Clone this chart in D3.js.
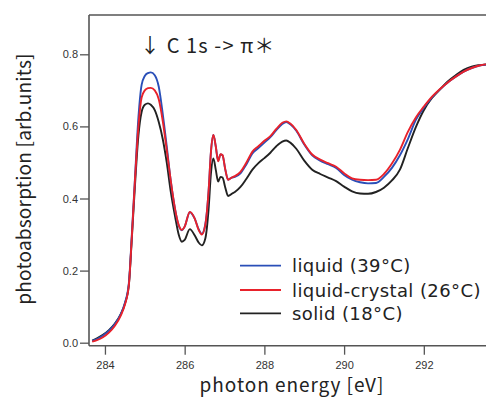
<!DOCTYPE html>
<html><head><meta charset="utf-8">
<script src="https://cdn.jsdelivr.net/npm/d3@7"></script>
<style>html,body{margin:0;padding:0;background:#fff;}svg{display:block;}</style>
</head><body>
<svg id="chart" width="486" height="399"></svg>
<script>
const energy = [283.68,283.8,283.95,284.1,284.25,284.4,284.5,284.6,284.67,284.75,284.84,284.92,285.0,285.08,285.15,285.25,285.35,285.45,285.55,285.65,285.76,285.85,285.93,286.0,286.13,286.25,286.35,286.43,286.52,286.6,286.66,286.72,286.78,286.84,286.9,286.95,287.02,287.09,287.18,287.26,287.4,287.55,287.7,287.85,288.0,288.15,288.3,288.45,288.55,288.65,288.8,289.0,289.2,289.4,289.6,289.8,290.0,290.2,290.4,290.6,290.8,291.0,291.2,291.4,291.6,291.8,292.0,292.2,292.4,292.6,292.8,293.0,293.2,293.4,293.56];
const liquid = [0.005,0.01,0.02,0.033,0.052,0.08,0.11,0.165,0.29,0.45,0.625,0.715,0.74,0.748,0.75,0.742,0.71,0.635,0.545,0.45,0.37,0.325,0.312,0.322,0.362,0.345,0.315,0.302,0.33,0.42,0.53,0.576,0.545,0.505,0.522,0.52,0.48,0.452,0.458,0.46,0.47,0.495,0.525,0.54,0.555,0.57,0.59,0.607,0.612,0.606,0.588,0.55,0.52,0.505,0.495,0.485,0.465,0.452,0.445,0.442,0.443,0.46,0.485,0.52,0.565,0.618,0.652,0.68,0.702,0.722,0.738,0.752,0.762,0.769,0.771];
const liquidCrystal = [0.003,0.007,0.015,0.028,0.047,0.076,0.105,0.16,0.285,0.445,0.6,0.68,0.7,0.706,0.707,0.7,0.675,0.615,0.535,0.45,0.37,0.327,0.313,0.322,0.363,0.345,0.313,0.3,0.328,0.42,0.53,0.576,0.545,0.503,0.523,0.52,0.48,0.452,0.458,0.462,0.474,0.5,0.53,0.545,0.56,0.573,0.593,0.61,0.614,0.608,0.59,0.552,0.522,0.508,0.498,0.488,0.47,0.456,0.452,0.451,0.452,0.468,0.497,0.535,0.585,0.625,0.655,0.682,0.703,0.722,0.738,0.752,0.762,0.769,0.772];
const solid = [0.006,0.012,0.022,0.035,0.053,0.08,0.108,0.16,0.28,0.43,0.575,0.64,0.66,0.664,0.66,0.645,0.612,0.565,0.5,0.42,0.35,0.3,0.28,0.285,0.315,0.298,0.278,0.27,0.29,0.37,0.47,0.511,0.48,0.447,0.46,0.458,0.43,0.407,0.413,0.418,0.432,0.455,0.48,0.498,0.512,0.527,0.545,0.558,0.561,0.555,0.538,0.505,0.48,0.468,0.458,0.448,0.433,0.42,0.414,0.413,0.418,0.43,0.45,0.48,0.54,0.598,0.645,0.678,0.702,0.725,0.742,0.757,0.766,0.77,0.772];
const seriesNames = ["liquid (39°C)", "liquid-crystal (26°C)", "solid (18°C)"];
const seriesColors = ["#2a4fb8", "#e8222b", "#222222"];
const xTicks = [284, 286, 288, 290, 292];
const yTicks = [0.0, 0.2, 0.4, 0.6, 0.8];

const svg = d3.select("#chart");
const L = 89, T = 15, B = 345.7, R = 486;
const x = d3.scaleLinear().domain([283.6, 293.56]).range([L, R]);
const y = d3.scaleLinear().domain([0, 0.8]).range([342.7, 54.3]);

svg.append("clipPath").attr("id","clip").append("rect")
  .attr("x", L).attr("y", T).attr("width", R - L).attr("height", B - T);

const allSeries = [liquid, liquidCrystal, solid];
const line = d3.line().x(d => x(d[0])).y(d => y(d[1])).curve(d3.curveMonotoneX);
const g = svg.append("g").attr("clip-path", "url(#clip)");
[2, 0, 1].forEach(i => {
  g.append("path")
    .datum(energy.map((e, k) => [e, allSeries[i][k]]))
    .attr("fill", "none").attr("stroke", seriesColors[i])
    .attr("stroke-width", 1.9).attr("stroke-linejoin", "round")
    .attr("d", line);
});

// frame
const frameColor = "#555";
svg.append("line").attr("x1", L).attr("x2", R).attr("y1", T).attr("y2", T)
  .attr("stroke", frameColor).attr("stroke-width", 1.6);

const yAxis = svg.append("g").attr("transform", `translate(${L},0)`)
  .call(d3.axisLeft(y).tickValues(yTicks).tickFormat(d3.format(".1f")).tickSize(9).tickSizeOuter(0));
yAxis.select(".domain").remove();
svg.append("line").attr("x1", L).attr("x2", L).attr("y1", T).attr("y2", B)
  .attr("stroke", frameColor).attr("stroke-width", 1.6);

const xAxis = svg.append("g").attr("transform", `translate(0,${B})`)
  .call(d3.axisBottom(x).tickValues(xTicks).tickFormat(d3.format("d")).tickSize(9).tickSizeOuter(0));
xAxis.select(".domain").remove();
svg.append("line").attr("x1", L).attr("x2", R).attr("y1", B).attr("y2", B)
  .attr("stroke", frameColor).attr("stroke-width", 1.6);

[xAxis, yAxis].forEach(a => {
  a.selectAll(".tick line").attr("stroke", frameColor).attr("stroke-width", 1.3);
  a.selectAll(".tick text").attr("fill", "#333")
    .style("font-family", "'Liberation Sans', Arial, sans-serif").style("font-size", "11px");
});
yAxis.selectAll(".tick text").attr("x", -11);
xAxis.selectAll(".tick text").attr("y", 16);

const titleFont = "'Noto Sans CJK JP', 'Noto Sans', sans-serif";
svg.append("text").attr("x", 292).attr("y", 392).attr("text-anchor", "middle")
  .style("font-family", titleFont).style("font-size", "19px").style("letter-spacing", "0.95px").attr("fill", "#222")
  .text("photon energy [eV]");
svg.append("text").attr("transform", "translate(31,179) rotate(-90)").attr("text-anchor", "middle")
  .style("font-family", titleFont).style("font-size", "19px").style("letter-spacing", "0.2px").attr("fill", "#222")
  .text("photoabsorption [arb.units]");

svg.append("text").attr("x", 140).attr("y", 53)
  .style("font-family", titleFont).style("font-size", "20px").style("letter-spacing", "1.1px").attr("fill", "#222")
  .text("↓ C 1s -> π＊");

// legend
const legY = [265.7, 290, 313.3];
seriesNames.forEach((n, i) => {
  svg.append("line").attr("x1", 240).attr("x2", 281).attr("y1", legY[i]).attr("y2", legY[i])
    .attr("stroke", seriesColors[i]).attr("stroke-width", 1.8);
  svg.append("text").attr("x", 292).attr("y", legY[i] + 6.5)
    .style("font-family", "'DejaVu Sans', sans-serif").style("font-size", "18px").style("letter-spacing", "0.4px").attr("fill", "#222")
    .text(n);
});
</script>
</body></html>
